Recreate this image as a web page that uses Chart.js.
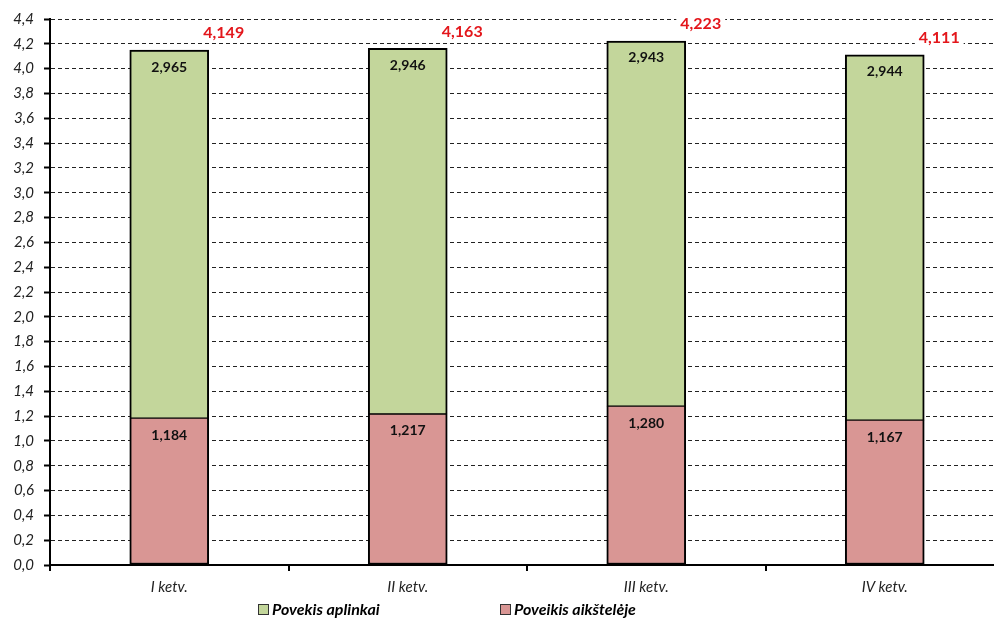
<!DOCTYPE html>
<html>
<head>
<meta charset="utf-8">
<script src="https://cdn.jsdelivr.net/npm/chart.js@4/dist/chart.umd.min.js"></script>
<style>
  html, body { margin: 0; padding: 0; background: #fff; overflow: hidden; }
  #wrap { width: 1004px; height: 623px; }
</style>
</head>
<body>
<div id="wrap"><canvas id="grafikas"></canvas></div>
<script>
const ketvirciai = ['I ketv.', 'II ketv.', 'III ketv.', 'IV ketv.'];
const aiksteleje = [1.184, 1.217, 1.280, 1.167];
const aplinkai = [2.965, 2.946, 2.943, 2.944];
const sumos = [4.149, 4.163, 4.223, 4.111];
const legendosTekstai = ['Povekis aplinkai', 'Poveikis aikštelėje'];

const SRIFTAS = 'Lato, "Open Sans", sans-serif';
const SPALVA_AIKST = '#d99694';
const SPALVA_APL = '#c3d69b';

function kablelis(v, d) {
  return Number(v).toFixed(d).replace('.', ',');
}

// reiksmiu etiketes ant stulpeliu ir sumos virs ju
const etiketes = {
  id: 'etiketes',
  afterDatasetsDraw(chart) {
    const ctx = chart.ctx;
    ctx.save();
    ctx.textAlign = 'center';
    ctx.textBaseline = 'middle';
    chart.data.datasets.forEach((ds, i) => {
      const meta = chart.getDatasetMeta(i);
      meta.data.forEach((el, j) => {
        ctx.fillStyle = '#111';
        ctx.font = 'bold 14px ' + SRIFTAS;
        ctx.fillText(kablelis(ds.data[j], 3), el.x, el.y + 17);
      });
    });
    // sumos su baltu fonu, kad pertrauktu tinklelio linijas
    const virsus = chart.getDatasetMeta(chart.data.datasets.length - 1);
    virsus.data.forEach((el, j) => {
      ctx.font = 'bold 16px ' + SRIFTAS;
      const tekstas = kablelis(sumos[j], 3);
      const x = el.x + el.width / 2 + 15;
      const y = chart.scales.y.getPixelForValue(sumos[j]) - 17;
      const plotis = ctx.measureText(tekstas).width;
      ctx.fillStyle = '#fff';
      ctx.fillRect(x - plotis / 2 - 4, y - 8, plotis + 8, 16);
      ctx.fillStyle = '#e3161b';
      ctx.fillText(tekstas, x, y);
    });
    ctx.restore();
  },
};

// legenda apacioje (kaip Excel'yje, pasislinkusi i kaire)
const legenda = {
  id: 'legenda',
  afterDraw(chart) {
    const ctx = chart.ctx;
    const spalvos = [SPALVA_APL, SPALVA_AIKST];
    const pradzios = [258, 500];
    const y = 610;
    ctx.save();
    ctx.font = 'italic bold 16px ' + SRIFTAS;
    ctx.textBaseline = 'middle';
    ctx.textAlign = 'left';
    legendosTekstai.forEach((t, i) => {
      ctx.fillStyle = spalvos[i];
      ctx.fillRect(pradzios[i], y - 6, 11, 11);
      ctx.strokeStyle = '#333';
      ctx.lineWidth = 1;
      ctx.strokeRect(pradzios[i] + 0.5, y - 5.5, 10, 10);
      ctx.fillStyle = '#000';
      ctx.fillText(t, pradzios[i] + 14, y);
    });
    ctx.restore();
  },
};

new Chart(document.getElementById('grafikas'), {
  type: 'bar',
  data: {
    labels: ketvirciai,
    datasets: [
      {
        label: legendosTekstai[1],
        data: aiksteleje,
        backgroundColor: SPALVA_AIKST,
        borderColor: '#000',
        borderWidth: { top: 1, left: 2, right: 2, bottom: 2 },
        borderSkipped: false,
        barThickness: 79,
      },
      {
        label: legendosTekstai[0],
        data: aplinkai,
        backgroundColor: SPALVA_APL,
        borderColor: '#000',
        borderWidth: { top: 2, left: 2, right: 2, bottom: 1 },
        borderSkipped: false,
        barThickness: 79,
      },
    ],
  },
  options: {
    responsive: true,
    maintainAspectRatio: false,
    animation: false,
    layout: { padding: { top: 18, right: 0, left: 0, bottom: 0 } },
    plugins: {
      tooltip: { enabled: false },
      legend: { display: false },
    },
    scales: {
      x: {
        stacked: true,
        border: { display: true, color: '#000', width: 2 },
        grid: { display: true, drawOnChartArea: false, color: '#000', tickLength: 6, lineWidth: 2 },
        ticks: {
          color: '#222',
          padding: 7,
          font: { family: SRIFTAS, size: 15, style: 'italic' },
        },
        afterFit: (s) => { s.height = 58; },
      },
      y: {
        stacked: true,
        min: 0,
        max: 4.4,
        border: { display: true, color: '#000', width: 2, dash: [4, 3] },
        grid: {
          color: '#222',
          lineWidth: 1,
          tickLength: 6,
          tickColor: '#000',
          tickWidth: 2,
          tickBorderDash: [],
        },
        ticks: {
          stepSize: 0.2,
          color: '#222',
          padding: 10,
          font: { family: SRIFTAS, size: 15, style: 'italic' },
          callback: (v) => kablelis(v, 1),
        },
        afterFit: (s) => { s.width = 50; },
      },
    },
  },
  plugins: [etiketes, legenda],
});
</script>
</body>
</html>
